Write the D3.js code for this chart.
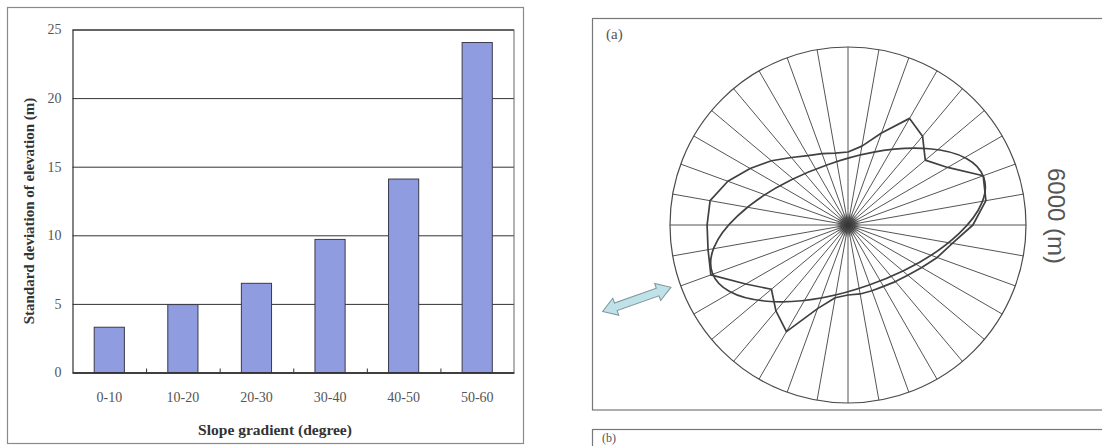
<!DOCTYPE html>
<html>
<head>
<meta charset="utf-8">
<script src="https://cdn.jsdelivr.net/npm/d3@7"></script>
<style>
  body { margin: 0; background: #fff; }
  svg { display: block; }
</style>
</head>
<body>
<script>
// bar chart data
let slopeClasses = ['0-10', '10-20', '20-30', '30-40', '40-50', '50-60'];
let stdElevation = [3.3, 4.95, 6.5, 9.7, 14.1, 24.05];
let yTicks = [0, 5, 10, 15, 20, 25];

// rose diagram data (azimuth in degrees, radius in m)
let azimuths = [0, 10, 20, 30, 40, 50, 60, 70, 80, 90, 100, 110, 120, 130, 140, 150, 160, 170,
                180, 190, 200, 210, 220, 230, 240, 250, 260, 270, 280, 290, 300, 310, 320, 330, 340, 350];
let roseRadius = [2460, 2700, 3300, 4150, 3910, 3400, 3880, 4850, 4720, 4210, 3570, 3200, 2870, 2630, 2490, 2390, 2360, 2360,
                  2360, 2490, 3000, 4150, 3780, 3370, 3980, 4920, 4790, 4750, 4720, 4310, 3810, 3370, 2970, 2700, 2560, 2460];
let outerRadius = 6000;
let ellipseMajor = 4850;    // semi-axes of the fitted ellipse (m)
let ellipseMinor = 2145;
let ellipseAzimuth = 70.6;  // direction of major axis
let arrowRange = [6330, 8770];

let W = 1102, H = 446;

let svg = d3.select('body')
  .append('svg')
  .attr('width', W)
  .attr('height', H)
  .style('background-color', '#fff');

// ---------- left panel: bar chart ----------
let serif = '"Liberation Serif", "Times New Roman", serif';

svg.append('rect')
   .attr('x', 7.5).attr('y', 7.5)
   .attr('width', 516).attr('height', 436)
   .attr('fill', 'none')
   .attr('stroke', '#8a8a8a')
   .attr('stroke-width', 1.2);

let pLeft = 72.5, pRight = 514, pTop = 29.5, pBottom = 372.5;

let xScale = d3.scaleBand()
               .domain(slopeClasses)
               .range([pLeft, pRight])
               .paddingInner(0.59)
               .paddingOuter(0.295);

let yScale = d3.scaleLinear()
               .domain([0, 25])
               .range([pBottom, pTop]);

// grid lines + y labels
let yAxis = d3.axisLeft(yScale)
              .tickValues(yTicks)
              .tickSize(-(pRight - pLeft))
              .tickPadding(11)
              .tickFormat(d3.format('d'));

let gy = svg.append('g')
   .attr('transform', 'translate(' + pLeft + ',0)')
   .call(yAxis);
gy.select('.domain').attr('stroke', '#333').attr('stroke-width', 1.2);
gy.selectAll('.tick line').attr('stroke', '#333').attr('stroke-width', 1);
gy.selectAll('.tick text')
  .attr('font-family', serif)
  .attr('font-size', '14px')
  .attr('fill', '#555');

// right border of plot area
svg.append('line')
   .attr('x1', pRight).attr('x2', pRight)
   .attr('y1', pTop).attr('y2', pBottom)
   .attr('stroke', '#666').attr('stroke-width', 1);

svg.selectAll('rect.bar')
   .data(stdElevation)
   .enter()
   .append('rect')
   .attr('class', 'bar')
   .attr('x', (d, i) => xScale(slopeClasses[i]))
   .attr('y', d => yScale(d))
   .attr('width', xScale.bandwidth())
   .attr('height', d => yScale(0) - yScale(d))
   .attr('fill', '#8f9ce0')
   .attr('stroke', '#3a3a4a')
   .attr('stroke-width', 1);

// x axis: labels under the bars, small ticks between categories
let xAxis = d3.axisBottom(xScale).tickSize(0).tickPadding(20);
let gx = svg.append('g')
   .attr('transform', 'translate(0,' + pBottom + ')')
   .call(xAxis);
gx.select('.domain').attr('stroke', '#333').attr('stroke-width', 1.4);
gx.selectAll('.tick text')
  .attr('font-family', serif)
  .attr('font-size', '14px')
  .attr('fill', '#555');

let boundary = d3.scaleLinear().domain([0, slopeClasses.length]).range([pLeft, pRight]);
let gt = svg.append('g')
   .attr('transform', 'translate(0,' + pBottom + ')')
   .call(d3.axisBottom(boundary).tickValues([1, 2, 3, 4, 5]).tickSize(-4).tickFormat(''));
gt.select('.domain').remove();
gt.selectAll('.tick line').attr('stroke', '#333');

svg.append('text')
   .attr('transform', 'translate(34,211) rotate(-90)')
   .attr('text-anchor', 'middle')
   .attr('font-family', serif)
   .attr('font-weight', 'bold')
   .attr('font-size', '15px')
   .attr('fill', '#333')
   .text('Standard deviation of elevation (m)');

svg.append('text')
   .attr('x', 275).attr('y', 435)
   .attr('text-anchor', 'middle')
   .attr('font-family', serif)
   .attr('font-weight', 'bold')
   .attr('font-size', '15.5px')
   .attr('fill', '#333')
   .text('Slope gradient (degree)');

// ---------- right panel: rose diagram ----------
svg.append('rect')
   .attr('x', 592.5).attr('y', 18.5)
   .attr('width', 520).attr('height', 391.5)
   .attr('fill', 'none')
   .attr('stroke', '#777')
   .attr('stroke-width', 1.2);

svg.append('rect')
   .attr('x', 592.5).attr('y', 429.5)
   .attr('width', 520).attr('height', 40)
   .attr('fill', 'none')
   .attr('stroke', '#777')
   .attr('stroke-width', 1.2);

svg.append('text')
   .attr('x', 606).attr('y', 39)
   .attr('font-family', serif)
   .attr('font-size', '15px')
   .attr('fill', '#555')
   .text('(a)');

svg.append('text')
   .attr('x', 602).attr('y', 442)
   .attr('font-family', serif)
   .attr('font-size', '12px')
   .attr('fill', '#555')
   .text('(b)');

let cx = 848, cy = 225;
let rScale = d3.scaleLinear().domain([0, outerRadius]).range([0, 178]);
let rad = a => a * Math.PI / 180;

let polar = svg.append('g').attr('transform', 'translate(' + cx + ',' + cy + ')');

// spokes
polar.selectAll('line.spoke')
   .data(azimuths)
   .enter()
   .append('line')
   .attr('class', 'spoke')
   .attr('x1', 0).attr('y1', 0)
   .attr('x2', d => rScale(outerRadius) * Math.sin(rad(d)))
   .attr('y2', d => -rScale(outerRadius) * Math.cos(rad(d)))
   .attr('stroke', '#555')
   .attr('stroke-width', 1);

polar.append('circle')
   .attr('r', rScale(outerRadius))
   .attr('fill', 'none')
   .attr('stroke', '#4a4a4a')
   .attr('stroke-width', 1.2);

// dark hub where the spokes meet
let grad = svg.append('defs').append('radialGradient').attr('id', 'hub');
grad.append('stop').attr('offset', '0%').attr('stop-color', '#333').attr('stop-opacity', 1);
grad.append('stop').attr('offset', '55%').attr('stop-color', '#444').attr('stop-opacity', 0.85);
grad.append('stop').attr('offset', '100%').attr('stop-color', '#777').attr('stop-opacity', 0);
polar.append('circle').attr('r', 13).attr('fill', 'url(#hub)');

// fitted ellipse
polar.append('ellipse')
   .attr('rx', rScale(ellipseMajor))
   .attr('ry', rScale(ellipseMinor))
   .attr('transform', 'rotate(' + (ellipseAzimuth - 90) + ')')
   .attr('fill', 'none')
   .attr('stroke', '#404040')
   .attr('stroke-width', 1.7);

// measured rose
let rose = d3.lineRadial()
   .angle((d, i) => rad(azimuths[i]))
   .radius(d => rScale(d))
   .curve(d3.curveLinearClosed);

polar.append('path')
   .attr('d', rose(roseRadius))
   .attr('fill', 'none')
   .attr('stroke', '#404040')
   .attr('stroke-width', 1.7)
   .attr('stroke-linejoin', 'round');

// double arrow along the major axis direction
let backAz = ellipseAzimuth + 180;
let a0 = rScale(arrowRange[0]), a1 = rScale(arrowRange[1]);
let len = a1 - a0, hw = 4, hh = 9, hl = 14;
let arrowPath = 'M0,0 L' + hl + ',' + (-hh) + ' L' + hl + ',' + (-hw) + ' L' + (len - hl) + ',' + (-hw) +
    ' L' + (len - hl) + ',' + (-hh) + ' L' + len + ',0 L' + (len - hl) + ',' + hh + ' L' + (len - hl) + ',' + hw +
    ' L' + hl + ',' + hw + ' L' + hl + ',' + hh + ' Z';
polar.append('path')
   .attr('d', arrowPath)
   .attr('transform', 'rotate(' + (backAz - 90) + ') translate(' + a0 + ',0)')
   .attr('fill', '#bfe2ea')
   .attr('stroke', '#7f9499')
   .attr('stroke-width', 1);

svg.append('text')
   .attr('transform', 'translate(1048,216) rotate(90)')
   .attr('text-anchor', 'middle')
   .attr('font-family', '"Liberation Sans", Arial, sans-serif')
   .attr('font-size', '24px')
   .attr('fill', '#555')
   .text('6000 (m)');
</script>
</body>
</html>
